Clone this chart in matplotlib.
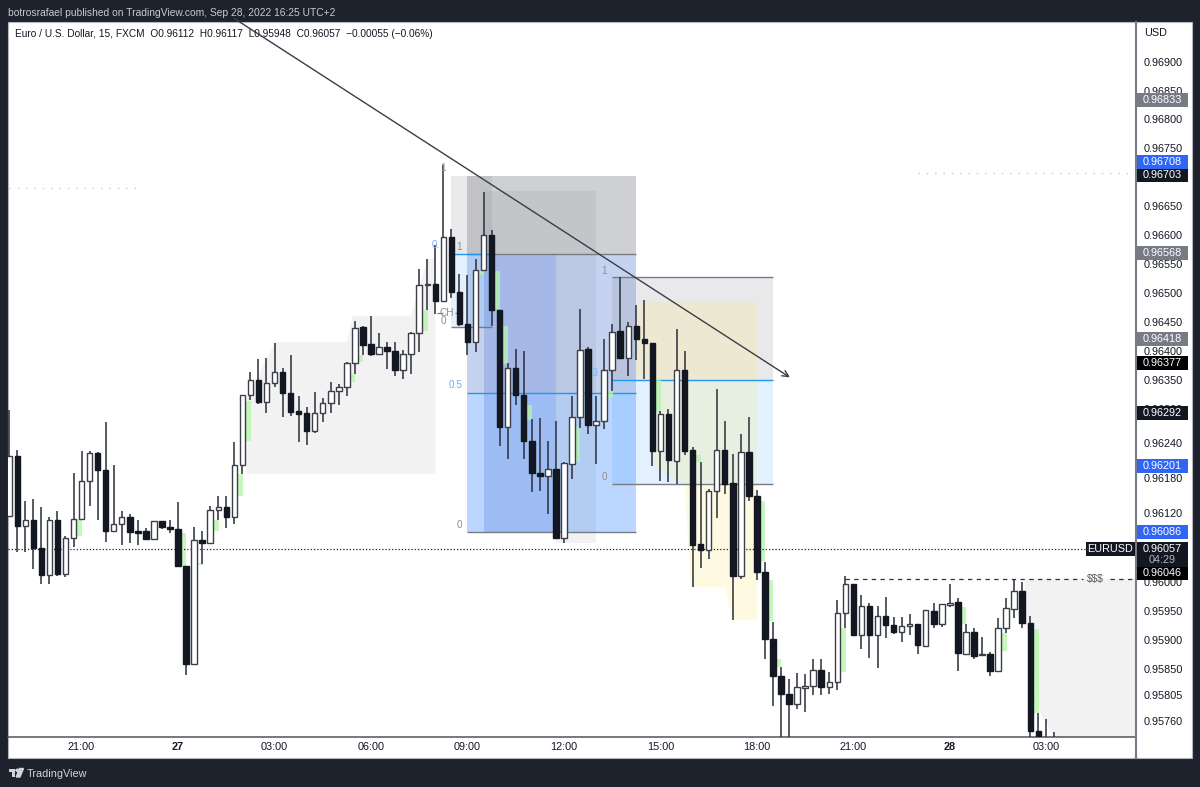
import matplotlib
matplotlib.use("Agg")
import matplotlib.pyplot as plt
import numpy as np
from matplotlib.patches import Rectangle, Polygon, Circle
from matplotlib.lines import Line2D

plt.rcParams['font.family'] = ['Liberation Sans', 'DejaVu Sans']

# candles, 15 min
opens = [0.96115,0.96218,0.96097,0.96108,0.96058,0.96012,0.96108,0.96014,0.96076,0.96109,
         0.96175,0.96224,0.96194,0.96088,0.96101,0.96113,0.96088,0.96088,0.96075,0.96105,
         0.96095,0.96091,0.96028,0.95858,0.96072,0.96068,0.96124,0.96130,0.96113,0.96202,
         0.96323,0.96349,0.96312,0.96345,0.96363,0.96327,0.96295,0.96292,0.96262,0.96293,
         0.96310,0.96330,0.96337,0.96378,0.96441,0.96411,0.96395,0.96406,0.96400,0.96367,
         0.96394,0.96431,0.96513,0.96515,0.96486,0.96597,0.96502,0.96446,0.96415,0.96540,
         0.96601,0.96471,0.96269,0.96370,0.96323,0.96244,0.96189,0.96183,0.96195,0.96077,
         0.96205,0.96285,0.96403,0.96271,0.96279,0.96366,0.96434,0.96387,0.96443,0.96421,
         0.96414,0.96227,0.96290,0.96210,0.96367,0.96228,0.96065,0.96056,0.96158,0.96229,
         0.96171,0.96010,0.96225,0.96148,0.96018,0.95902,0.95838,0.95807,0.95789,0.95816,
         0.95820,0.95848,0.95818,0.95827,0.95947,0.95996,0.95909,0.95959,0.95909,0.95942,
         0.95925,0.95914,0.95924,0.95927,0.95890,0.95950,0.95927,0.95961,0.95965,0.95876,
         0.95914,0.95873,0.95875,0.95846,0.95921,0.95954,0.95985,0.95930,0.95743,0.95715,
         0.95700]
highs = [0.96297,0.96228,0.96140,0.96143,0.96129,0.96112,0.96122,0.96079,0.96188,0.96227,
         0.96227,0.96225,0.96276,0.96202,0.96122,0.96118,0.96107,0.96093,0.96105,0.96105,
         0.96107,0.96138,0.96028,0.96095,0.96089,0.96132,0.96149,0.96149,0.96243,0.96323,
         0.96363,0.96385,0.96387,0.96414,0.96370,0.96392,0.96322,0.96303,0.96328,0.96318,
         0.96346,0.96342,0.96381,0.96452,0.96443,0.96460,0.96430,0.96416,0.96416,0.96401,
         0.96433,0.96541,0.96559,0.96583,0.96721,0.96610,0.96532,0.96531,0.96559,0.96675,
         0.96608,0.96471,0.96378,0.96403,0.96399,0.96282,0.96284,0.96244,0.96278,0.96208,
         0.96321,0.96473,0.96406,0.96322,0.96421,0.96446,0.96527,0.96449,0.96479,0.96487,
         0.96414,0.96295,0.96299,0.96438,0.96400,0.96233,0.96207,0.96161,0.96333,0.96278,
         0.96221,0.96256,0.96285,0.96160,0.96035,0.95931,0.95853,0.95833,0.95842,0.95841,
         0.95867,0.95867,0.95844,0.95969,0.96011,0.95997,0.95978,0.95963,0.95959,0.95974,
         0.95940,0.95939,0.95944,0.95927,0.95951,0.95964,0.95962,0.95996,0.95972,0.95927,
         0.95920,0.95905,0.95879,0.95937,0.95973,0.96006,0.96000,0.95941,0.95774,0.95763,
         0.95741]
lows = [0.96115,0.96052,0.96052,0.96022,0.95997,0.95997,0.96011,0.96009,0.96061,0.96109,
        0.96131,0.96107,0.96070,0.96088,0.96064,0.96068,0.96064,0.96073,0.96075,0.96091,
        0.96085,0.96028,0.95840,0.95858,0.96032,0.96068,0.96107,0.96093,0.96101,0.96187,
        0.96315,0.96308,0.96292,0.96338,0.96286,0.96288,0.96242,0.96237,0.96257,0.96276,
        0.96293,0.96306,0.96322,0.96360,0.96392,0.96391,0.96393,0.96369,0.96356,0.96352,
        0.96359,0.96398,0.96470,0.96464,0.96486,0.96492,0.96442,0.96393,0.96398,0.96540,
        0.96443,0.96235,0.96212,0.96306,0.96213,0.96156,0.96157,0.96117,0.96077,0.96068,
        0.96178,0.96267,0.96256,0.96204,0.96264,0.96330,0.96387,0.96357,0.96384,0.96352,
        0.96201,0.96174,0.96173,0.96169,0.96220,0.95992,0.96024,0.96039,0.96110,0.96153,
        0.95934,0.96006,0.96141,0.96003,0.95867,0.95786,0.95710,0.95710,0.95781,0.95775,
        0.95804,0.95805,0.95807,0.95814,0.95920,0.95906,0.95885,0.95869,0.95852,0.95903,
        0.95910,0.95896,0.95909,0.95875,0.95888,0.95920,0.95923,0.95957,0.95846,0.95876,
        0.95867,0.95872,0.95837,0.95846,0.95912,0.95938,0.95920,0.95732,0.95680,0.95680,
        0.95680]
closes = [0.96218,0.96097,0.96108,0.96058,0.96012,0.96108,0.96014,0.96076,0.96109,0.96175,
          0.96224,0.96194,0.96089,0.96101,0.96113,0.96086,0.96085,0.96075,0.96105,0.96095,
          0.96091,0.96028,0.95858,0.96072,0.96068,0.96125,0.96130,0.96113,0.96203,0.96323,
          0.96349,0.96311,0.96345,0.96363,0.96327,0.96294,0.96291,0.96262,0.96293,0.96310,
          0.96330,0.96337,0.96378,0.96440,0.96410,0.96395,0.96406,0.96400,0.96367,0.96394,
          0.96431,0.96513,0.96515,0.96486,0.96597,0.96502,0.96446,0.96415,0.96540,0.96601,
          0.96471,0.96269,0.96370,0.96323,0.96244,0.96188,0.96183,0.96195,0.96077,0.96206,
          0.96285,0.96402,0.96271,0.96279,0.96366,0.96433,0.96387,0.96443,0.96421,0.96414,
          0.96227,0.96290,0.96211,0.96367,0.96227,0.96064,0.96056,0.96158,0.96229,0.96170,
          0.96010,0.96225,0.96148,0.96017,0.95902,0.95838,0.95807,0.95789,0.95818,0.95820,
          0.95848,0.95819,0.95827,0.95947,0.95996,0.95909,0.95959,0.95909,0.95942,0.95926,
          0.95914,0.95924,0.95927,0.95891,0.95951,0.95927,0.95962,0.95964,0.95877,0.95914,
          0.95872,0.95876,0.95846,0.95921,0.95955,0.95985,0.95929,0.95743,0.95700,0.95700,
          0.95715]

# green imbalance boxes: bar, top price, bottom price
gap_bars = [9,22,24,26,29,30,43,44,52,59,61,62,65,71,75,81,86,94,95,96,104,119,124,128]
gap_tops = [0.96109,0.96084,0.96033,0.96108,0.96187,0.96313,0.96359,0.96392,0.96470,0.96538,0.96538,0.96443,
            0.96306,0.96269,0.96331,0.96352,0.96219,0.96140,0.96003,0.95867,0.95920,0.95957,0.95912,0.95919]
gap_bottoms = [0.96080,0.96028,0.96029,0.96089,0.96149,0.96244,0.96346,0.96381,0.96434,0.96531,0.96473,0.96377,
               0.96281,0.96208,0.96320,0.96294,0.96207,0.96036,0.95932,0.95853,0.95845,0.95927,0.95880,0.95774]

# shaded ranges
gray_zone_x = [29.5,29.5,33,42,42.75,50,52,53,53]
gray_zone_y = [0.96187,0.96313,0.96415,0.96415,0.96460,0.96460,0.96559,0.96559,0.96187]
gray_mid_x = [59,73,73,68,68,59]
gray_mid_y = [0.96676,0.96676,0.96067,0.96067,0.96086,0.96086]
yellow_x = [79.1,93,93,90,89,84.8,84,80,80,78,78]
yellow_y = [0.96486,0.96486,0.95934,0.95934,0.95991,0.95991,0.96169,0.96200,0.96353,0.96358,0.96465]
gray_end_x = [126.3,140.2,140.2,130.1,128.2,127,126.3]
gray_end_y = [0.96006,0.96006,0.9573,0.9573,0.95775,0.95899,0.95934]

# axis labels
price_ticks = [0.969,0.9685,0.968,0.9675,0.9665,0.966,0.9655,0.965,0.9645,0.964,0.9635,0.963,
               0.9624,0.9618,0.9612,0.96,0.9595,0.959,0.9585,0.95805,0.9576]
time_bars = [9,21,33,45,57,69,81,93,105,117,129]
time_labels = ['21:00','27','03:00','06:00','09:00','12:00','15:00','18:00','21:00','28','03:00']

# price badges: text, pixel centre, colour
badge_text = ['0.96833','0.96708','0.96703','0.96568','0.96418','0.96377','0.96292','0.96201','0.96086','0.96046']
badge_y = [100,162,175.5,253,339,363,412.7,466,532,573.5]
badge_colors = ['#787b86','#2f66f6','#131722','#787b86','#787b86','#000000','#131722','#2f66f6','#2f66f6','#000000']

W, H = 1200, 787
DARK = '#131722'
fx = lambda x: x / W
fy = lambda y: 1 - y / H

fig = plt.figure(figsize=(12, 7.87), dpi=100, facecolor='#1e222d')

def fig_rect(x0, y0, x1, y1, color, z=5, **kw):
    fig.add_artist(Rectangle((fx(x0), fy(y1)), (x1 - x0) / W, (y1 - y0) / H, transform=fig.transFigure,
                             facecolor=color, zorder=z, **kw))

# white page behind chart and scales
fig_rect(8, 21.5, 1192, 758, 'white', z=-1, edgecolor='#b2b5be', linewidth=0.8)

ax = fig.add_axes([fx(8), fy(736.7), (1135.5 - 8) / W, (736.7 - 22) / H], facecolor='none')
ax.set_xlim(-0.149, 140.09)
ax.set_ylim(0.957325, 0.969686)

# fib 1
ax.fill_between([57, 78], 0.96568, 0.96703, color='#cfd0d3', lw=0, zorder=1)
ax.fill_between([57, 78], 0.96327, 0.96568, color='#c6d3f0', lw=0, zorder=1)
ax.fill_between([57, 78], 0.96086, 0.96327, color='#bcd7ff', lw=0, zorder=1)
# darker block and gray ranges
ax.fill(gray_zone_x, gray_zone_y, color='black', alpha=0.05, lw=0, zorder=1.2)
ax.fill(gray_mid_x, gray_mid_y, color='black', alpha=0.05, lw=0, zorder=1.2)
ax.fill(gray_end_x, gray_end_y, color='black', alpha=0.05, lw=0, zorder=1.2)
ax.fill_between([59, 68], 0.96086, 0.96568, color='#2962ff', alpha=0.15, lw=0, zorder=1.3)
# small fib
ax.fill_between([55, 60], 0.96568, 0.96703, color='#787b86', alpha=0.16, lw=0, zorder=1.4)
ax.fill_between([55, 60], 0.96441, 0.96568, color='#2996ff', alpha=0.13, lw=0, zorder=1.4)
# fib 2
ax.fill_between([75, 95], 0.96349, 0.96528, color='#787b86', alpha=0.16, lw=0, zorder=1.4)
ax.fill_between([75, 95], 0.96169, 0.96349, color='#2996ff', alpha=0.13, lw=0, zorder=1.4)
ax.fill(yellow_x, yellow_y, color='#f9e76a', alpha=0.2, lw=0, zorder=1.5)

# fib lines
ax.hlines([0.96568, 0.96086], 57, 78, color='#787b86', lw=1, zorder=1.8)
ax.hlines(0.96327, 57, 78, color='#2196f3', lw=1, zorder=1.8)
ax.hlines(0.96568, 55, 60, color='#2196f3', lw=1, zorder=1.8)
ax.hlines(0.96441, 55, 60, color='#787b86', lw=1, zorder=1.8)
ax.hlines([0.96528, 0.96169], 75, 95, color='#787b86', lw=1, zorder=1.8)
ax.hlines(0.96349, 75, 95, color='#2196f3', lw=1, zorder=1.8)
ax.hlines(0.96465, 53.2, 53.9, color='#787b86', lw=0.9, zorder=1.8)
ax.hlines(0.96465, 55.4, 56, color='#787b86', lw=0.9, zorder=1.8)

# green boxes
gap_bars = np.array(gap_bars)
ax.bar(gap_bars - 0.3, np.array(gap_tops) - np.array(gap_bottoms), 0.7, np.array(gap_bottoms),
       color='#b4f5a8', alpha=0.75, lw=0, zorder=2)

# last price and dotted levels
ax.axhline(0.96057, color='#222222', lw=0.9, ls=(0, (1, 1.6)), zorder=2.2)
ax.hlines(0.96681, 0, 16.5, color='#c9cbd1', lw=1, ls=(0, (1, 5)), zorder=2.2)
ax.hlines(0.96708, 113, 140, color='#c9cbd1', lw=1, ls=(0, (1, 5)), zorder=2.2)
ax.hlines(0.96006, 104, 133.5, color='#333333', lw=0.9, ls=(0, (3.5, 3.5)), zorder=2.2)
ax.hlines(0.96006, 136.9, 140.1, color='#333333', lw=0.9, ls=(0, (3.5, 3.5)), zorder=2.2)

# candles
bars = np.arange(len(opens))
o, h, l, c = map(np.array, (opens, highs, lows, closes))
up = c >= o
ax.vlines(bars, l, h, color='#2a2e39', lw=1.1, zorder=3)
ax.bar(bars[up], (c - o)[up], 0.68, o[up], facecolor='white', edgecolor='#3c3f47', lw=1, zorder=4)
ax.bar(bars[~up], (o - c)[~up], 0.68, c[~up], facecolor=DARK, edgecolor=DARK, lw=1, zorder=4)

# trend arrow
ax.annotate('', xy=(97.1, 0.96354), xytext=(27.96, 0.96975), annotation_clip=False,
            arrowprops=dict(arrowstyle='->', color='#3a3d45', lw=1, shrinkA=0, shrinkB=0,
                            mutation_scale=11), zorder=6)

# fib and note labels
gray_txt = dict(color='#8b8e98', fontsize=7.2, ha='center', va='center', zorder=5)
blue_txt = dict(color='#6fb2f7', fontsize=7.2, ha='center', va='center', zorder=5)
for bx, py, s in [(54, 0.96716, '1'), (55.9, 0.96579, '1'), (54, 0.96451, '0'), (56, 0.96098, '0'),
                  (74, 0.96538, '1'), (74, 0.96181, '0'), (54.4, 0.96465, 'CH')]:
    ax.text(bx, py, s, **gray_txt)
for bx, py, s in [(53.1, 0.96583, '0.'), (55.5, 0.96341, '0.5'), (73, 0.96361, '0.')]:
    ax.text(bx, py, s, **blue_txt)
ax.text(135.05, 0.96006, '$$$', color='#55585f', fontsize=7.4, ha='center', va='center', zorder=5)

# axes
for name in ['top', 'left', 'right']:
    ax.spines[name].set_visible(False)
ax.spines['bottom'].set_color('#50535e')
ax.spines['bottom'].set_linewidth(1.1)
ax.yaxis.tick_right()
ax.set_yticks(price_ticks)
ax.set_yticklabels(['%.5f' % p for p in price_ticks])
ax.set_xticks(time_bars)
ax.set_xticklabels(time_labels)
ax.tick_params(axis='y', length=0, pad=5.9, labelsize=7.8, labelcolor=DARK)
ax.tick_params(axis='x', length=0, pad=3.6, labelsize=7.8, labelcolor=DARK)
for lab in ax.get_xticklabels():
    if lab.get_text() in ('27', '28'):
        lab.set_fontweight('bold')

# scale separator
fig.add_artist(Line2D([fx(1136), fx(1136)], [fy(21.5), fy(758)], color='#787b86', lw=1.5, zorder=4))

# badges on the price scale
for txt, y, col in zip(badge_text, badge_y, badge_colors):
    fig_rect(1136.5, y - 6.8, 1188, y + 6.8, col)
    fig.text(fx(1162.5), fy(y), txt, color='white', fontsize=7.8, ha='center', va='center', zorder=6)

fig_rect(1136.5, 542, 1188, 567, DARK)
fig.text(fx(1162.5), fy(548.7), '0.96057', color='white', fontsize=7.8, ha='center', va='center', zorder=6)
fig.text(fx(1162.5), fy(560.3), '04:29', color='#b2b5be', fontsize=7.8, ha='center', va='center', zorder=6)
fig_rect(1086, 542, 1135, 555.5, DARK)
fig.text(fx(1110.5), fy(548.7), 'EURUSD', color='white', fontsize=7.8, ha='center', va='center', zorder=6)

# header and legend
fig.text(fx(1144), fy(33), 'USD', color=DARK, fontsize=7.8, ha='left', va='center')
fig.text(fx(8), fy(12.5), 'botrosrafael published on TradingView.com, Sep 28, 2022 16:25 UTC+2',
         color='#c8cad0', fontsize=7.35, ha='left', va='center')
fig.text(fx(15), fy(34), 'Euro / U.S. Dollar, 15, FXCM  O0.96112  H0.96117  L0.95948  C0.96057  \u22120.00055 (\u22120.06%)',
         color=DARK, fontsize=7.25, ha='left', va='center', zorder=3)

# logo
logo = '#d1d4dc'
fig_rect(8.5, 768.5, 15, 771.5, logo, z=3)
fig_rect(11.5, 768.5, 15, 777, logo, z=3)
fig.add_artist(Circle((fx(17.5), fy(770.3)), 1.6 / W, transform=fig.transFigure, color=logo, zorder=3))
fig.add_artist(Polygon([(fx(19.5), fy(768.5)), (fx(23.5), fy(768.5)), (fx(20), fy(777)), (fx(16.2), fy(777))],
                       transform=fig.transFigure, color=logo, zorder=3))
fig.text(fx(27), fy(774), 'TradingView', color=logo, fontsize=7.8, ha='left', va='center')

fig.savefig('out.png', dpi=100, facecolor=fig.get_facecolor())
